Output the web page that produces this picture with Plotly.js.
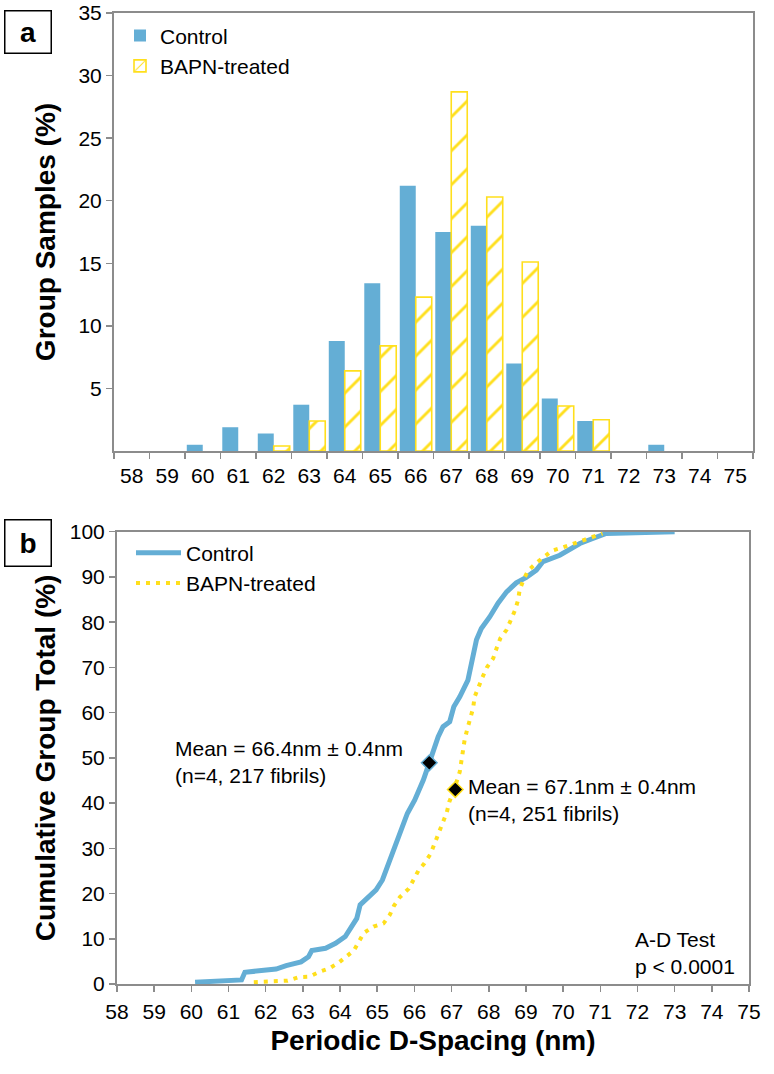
<!DOCTYPE html>
<html>
<head>
<meta charset="utf-8">
<script src="https://cdn.plot.ly/plotly-3.0.1.min.js"></script>
<style>html,body{margin:0;padding:0;background:#fff}#chart{width:774px;height:1074px}</style>
</head>
<body>
<div id="chart"></div>
<script>
// Panel a: histogram bins (nm) and group percentages
const bins = ['58','59','60','61','62','63','64','65','66','67','68','69','70','71','72','73','74','75'];
const controlPct = [0, 0, 0.5, 1.9, 1.4, 3.7, 8.8, 13.4, 21.2, 17.5, 18.0, 7.0, 4.2, 2.4, 0, 0.5, 0, 0];
const bapnPct    = [0, 0, 0, 0, 0.4, 2.4, 6.4, 8.4, 12.3, 28.7, 20.3, 15.1, 3.6, 2.5, 0, 0, 0, 0];

// Panel b: cumulative distributions
const controlX = [60.1, 61.35, 61.44, 62.02, 62.28, 62.55, 62.95, 63.15, 63.24, 63.61, 63.88, 64.14, 64.30, 64.45, 64.54, 64.74, 64.97, 65.14, 65.34, 65.58, 65.81, 66.01, 66.24, 66.40, 66.64, 66.77, 66.95, 67.06, 67.22, 67.44, 67.53, 67.67, 67.80, 68.03, 68.25, 68.48, 68.74, 69.01, 69.28, 69.46, 69.91, 70.18, 70.45, 70.80, 71.16, 73.0];
const controlY = [0.4, 0.9, 2.6, 2.9, 3.3, 4.05, 4.9, 6.0, 7.4, 7.9, 9.0, 10.5, 12.7, 14.5, 17.5, 18.9, 20.8, 23.0, 27.4, 32.6, 37.7, 40.7, 45.1, 48.9, 54.7, 56.9, 58.0, 61.3, 63.5, 67.2, 70.9, 76.1, 78.6, 81.2, 84.2, 86.7, 88.7, 89.9, 91.5, 93.4, 94.8, 96.0, 97.4, 98.5, 99.6, 100];
const bapnX = [61.68, 62.02, 62.28, 62.59, 62.88, 63.17, 63.45, 63.72, 63.96, 64.14, 64.37, 64.64, 64.90, 65.17, 65.34, 65.45, 65.61, 65.85, 66.11, 66.27, 66.43, 66.54, 66.76, 66.87, 66.94, 67.07, 67.22, 67.29, 67.35, 67.42, 67.49, 67.58, 67.62, 67.71, 67.83, 67.95, 68.12, 68.21, 68.31, 68.48, 68.61, 68.70, 68.79, 68.83, 68.94, 69.06, 69.28, 69.51, 69.70, 69.98, 70.27, 70.53, 70.79, 71.06];
const bapnY = [0.4, 0.6, 0.66, 0.74, 1.5, 1.6, 2.7, 3.5, 4.7, 6.0, 7.4, 11.3, 12.7, 13.4, 15.3, 17.3, 19.2, 21.1, 25.1, 26.7, 28.7, 31.0, 35.5, 37.9, 40.3, 43.0, 46.9, 51.6, 53.9, 56.3, 58.5, 61.0, 63.5, 65.6, 67.8, 70.0, 72.0, 74.2, 76.4, 78.3, 80.5, 82.5, 84.9, 87.1, 89.5, 91.4, 93.1, 94.5, 95.8, 96.5, 97.3, 98.2, 98.9, 99.6];

// Group means
const controlMean = [66.4, 48.9];
const bapnMean = [67.1, 43.0];

const BLUE = '#64AED5';
const YELLOW = '#FFDF1C';
const GREY = '#8C8C8C';
const FONT = 'Liberation Sans, Arial, Helvetica, sans-serif';

// empty bins are drawn as no bar (avoid a zero-height outline)
const noZero = arr => arr.map(v => (v === 0 ? null : v));

const traces = [
  {type:'bar', x:bins, y:noZero(controlPct), name:'Control', xaxis:'x', yaxis:'y',
   marker:{color:BLUE, line:{width:0}}, legend:'legend'},
  {type:'bar', x:bins, y:noZero(bapnPct), name:'BAPN-treated', xaxis:'x', yaxis:'y',
   marker:{color:'white', line:{color:YELLOW, width:1.6},
           pattern:{shape:'/', fgcolor:YELLOW, bgcolor:'white', size:24, solidity:0.12, fillmode:'replace'}},
   legend:'legend'},
  {type:'scatter', mode:'lines', x:controlX, y:controlY, name:'Control', xaxis:'x2', yaxis:'y2',
   line:{color:BLUE, width:5}, legend:'legend2', cliponaxis:false},
  {type:'scatter', mode:'lines', x:bapnX, y:bapnY, name:'BAPN-treated', xaxis:'x2', yaxis:'y2',
   line:{color:YELLOW, width:4, dash:'4px,6px'}, legend:'legend2', cliponaxis:false},
  {type:'scatter', mode:'markers', x:[controlMean[0]], y:[controlMean[1]], xaxis:'x2', yaxis:'y2',
   marker:{symbol:'diamond', size:12, color:'black', line:{color:BLUE, width:1.5}}, showlegend:false},
  {type:'scatter', mode:'markers', x:[bapnMean[0]], y:[bapnMean[1]], xaxis:'x2', yaxis:'y2',
   marker:{symbol:'diamond', size:12, color:'black', line:{color:YELLOW, width:1.5}}, showlegend:false}
];

const axisCommon = {
  showline:true, linecolor:GREY, linewidth:2, mirror:true,
  ticks:'outside', ticklen:6, tickwidth:1.5, tickcolor:GREY,
  showgrid:false, zeroline:false, fixedrange:true,
  tickfont:{family:FONT, size:21, color:'#000'}
};

const layout = {
  width:774, height:1074,
  margin:{l:114, r:21, t:13, b:90},
  paper_bgcolor:'white', plot_bgcolor:'white',
  font:{family:FONT, color:'#000'},
  barmode:'group', bargap:0.1, bargroupgap:0,
  xaxis: Object.assign({}, axisCommon, {
    domain:[0,1], anchor:'y', type:'category', tickson:'boundaries', range:[-0.5,17.5],
    ticklabelstandoff:5
  }),
  yaxis: Object.assign({}, axisCommon, {
    domain:[0.5489,1], anchor:'x', range:[0,35], tickvals:[5,10,15,20,25,30,35],
    title:{text:'Group Samples (%)', font:{family:FONT, size:28, weight:'bold'}, standoff:15}
  }),
  xaxis2: Object.assign({}, axisCommon, {
    domain:[0.0047,0.9937], anchor:'y2', range:[58,75], dtick:1, ticklabelstandoff:2,
    title:{text:'Periodic D-Spacing (nm)', font:{family:FONT, size:28, weight:'bold'}, standoff:8}
  }),
  yaxis2: Object.assign({}, axisCommon, {
    domain:[0,0.4658], anchor:'x2', range:[0,100], dtick:10,
    title:{text:'Cumulative Group Total (%)', font:{family:FONT, size:28, weight:'bold'}, standoff:6}
  }),
  legend:{x:0.0094, y:0.9975, xanchor:'left', yanchor:'top', bgcolor:'rgba(0,0,0,0)',
          font:{family:FONT, size:21}, tracegroupgap:0},
  legend2:{x:0.0266, y:0.4650, xanchor:'left', yanchor:'top', bgcolor:'rgba(0,0,0,0)',
           font:{family:FONT, size:21}, tracegroupgap:0, itemwidth:45},
  annotations:[
    {xref:'paper', yref:'paper', x:-0.1721, y:1.0031, xanchor:'left', yanchor:'top',
     text:'<b>a</b>', showarrow:false, font:{family:FONT, size:28}, width:45, height:41,
     bordercolor:'#000', borderwidth:1.5, borderpad:0, bgcolor:'white'},
    {xref:'paper', yref:'paper', x:-0.1721, y:0.4789, xanchor:'left', yanchor:'top',
     text:'<b>b</b>', showarrow:false, font:{family:FONT, size:28}, width:45, height:45,
     bordercolor:'#000', borderwidth:1.5, borderpad:0, bgcolor:'white'},
    {xref:'x2', yref:'y2', x:59.5, y:49.0, xanchor:'left', yanchor:'middle', align:'left',
     text:'Mean = 66.4nm ± 0.4nm<br>(n=4, 217 fibrils)', showarrow:false,
     font:{family:FONT, size:21}},
    {xref:'x2', yref:'y2', x:67.38, y:40.7, xanchor:'left', yanchor:'middle', align:'left',
     text:'Mean = 67.1nm ± 0.4nm<br>(n=4, 251 fibrils)', showarrow:false,
     font:{family:FONT, size:21}},
    {xref:'x2', yref:'y2', x:71.88, y:6.85, xanchor:'left', yanchor:'middle', align:'left',
     text:'A-D Test<br>p < 0.0001', showarrow:false,
     font:{family:FONT, size:21}}
  ]
};

Plotly.newPlot('chart', traces, layout, {staticPlot:true, displayModeBar:false});
</script>
</body>
</html>
